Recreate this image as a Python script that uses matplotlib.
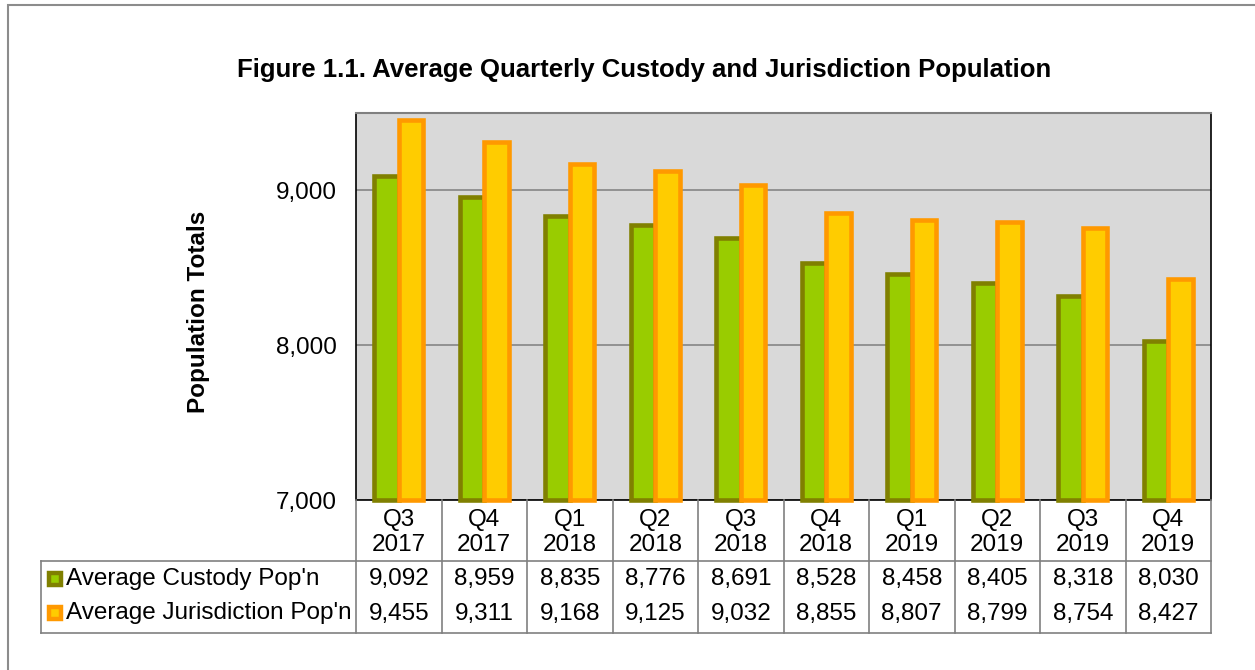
import numpy as np
import matplotlib
matplotlib.use("Agg")
from matplotlib import pyplot as plt
from matplotlib.patches import Rectangle
from matplotlib.lines import Line2D
from matplotlib.transforms import blended_transform_factory

plt.rcParams['font.family'] = ['Liberation Sans', 'DejaVu Sans']

# chart data
quarters = ["Q3", "Q4", "Q1", "Q2", "Q3", "Q4", "Q1", "Q2", "Q3", "Q4"]
years = ["2017", "2017", "2018", "2018", "2018", "2018", "2019", "2019", "2019", "2019"]
custody = [9092, 8959, 8835, 8776, 8691, 8528, 8458, 8405, 8318, 8030]
jurisdiction = [9455, 9311, 9168, 9125, 9032, 8855, 8807, 8799, 8754, 8427]
series_names = ["Average Custody Pop'n", "Average Jurisdiction Pop'n"]
yticks = [7000, 8000, 9000]

W, H = 1255, 670
FS = 17.5
fig = plt.figure(figsize=(W / 100, H / 100), dpi=100)

#pixel -> figure fraction helpers
def fx(px):
    return px / W
def fy(py):
    return 1 - py / H

# outer chart border
fig.patches.append(Rectangle((fx(8), fy(700)), fx(1300), fy(5) - fy(700),
                             transform=fig.transFigure, fill=False,
                             edgecolor="#8c8c8c", linewidth=1.5))

left, right, top, bottom = 356, 1211, 113, 500
ax = fig.add_axes([fx(left), fy(bottom), fx(right - left), fy(top) - fy(bottom)])
ax.set_facecolor("#D9D9D9")

x = np.arange(len(quarters))
w = 0.286
ax.bar(x - w / 2, np.array(custody) - 7000, bottom=7000, width=w, color="#99CC00",
       edgecolor="#808000", linewidth=3.3, zorder=3, clip_on=False)
ax.bar(x + w / 2, np.array(jurisdiction) - 7000, bottom=7000, width=w, color="#FFCC00",
       edgecolor="#FF9900", linewidth=3.3, zorder=4, clip_on=False)

ax.set_xlim(-0.5, len(quarters) - 0.5)
ax.set_ylim(7000, 9500)
ax.set_yticks(yticks)
ax.set_yticklabels([f"{v:,}" for v in yticks], fontsize=FS)
ax.tick_params(axis="y", length=0, pad=14)
ax.set_xticks([])
ax.yaxis.grid(True, color="#8c8c8c", linewidth=1.3, zorder=1)
ax.set_axisbelow(True)
for s in ["left", "right", "bottom"]:
    ax.spines[s].set_color("black")
    ax.spines[s].set_linewidth(1.2)
ax.spines["top"].set_color("#808080")
ax.spines["top"].set_linewidth(1.5)

fig.text(fx(644), fy(70), "Figure 1.1. Average Quarterly Custody and Jurisdiction Population",
         ha="center", va="center", fontsize=18.5, fontweight="bold")
fig.text(fx(199), fy(312), "Population Totals", rotation=90, ha="center", va="center",
         fontsize=FS, fontweight="bold")

# data table below the axes
tr = blended_transform_factory(ax.transData, fig.transFigure)
lc = "#808080"
edges = np.arange(len(quarters) + 1) - 0.5
for e in edges[1:]:
    fig.add_artist(Line2D([e, e], [fy(bottom), fy(633)], transform=tr, color=lc, linewidth=1.2))
fig.add_artist(Line2D([fx(left), fx(left)], [fy(bottom), fy(633)], transform=fig.transFigure, color=lc, linewidth=1.2))
fig.add_artist(Line2D([fx(41), fx(41)], [fy(561), fy(633)], transform=fig.transFigure, color=lc, linewidth=1.2))
for py in [561, 633]:
    fig.add_artist(Line2D([fx(41), fx(right)], [fy(py), fy(py)], transform=fig.transFigure,
                          color=lc, linewidth=1.2))

for i in range(len(quarters)):
    fig.text(x[i], fy(520), quarters[i], transform=tr, ha="center", va="center", fontsize=FS)
    fig.text(x[i], fy(545), years[i], transform=tr, ha="center", va="center", fontsize=FS)
    fig.text(x[i], fy(579), f"{custody[i]:,}", transform=tr, ha="center", va="center", fontsize=FS)
    fig.text(x[i], fy(614), f"{jurisdiction[i]:,}", transform=tr, ha="center", va="center", fontsize=FS)

key_styles = [("#99CC00", "#808000"), ("#FFCC00", "#FF9900")]
for (face, edge), name, py in zip(key_styles, series_names, [579, 613]):
    fig.patches.append(Rectangle((fx(49), fy(py + 6)), fx(12), fy(py - 6) - fy(py + 6),
                                 transform=fig.transFigure, facecolor=face,
                                 edgecolor=edge, linewidth=3.2))
    fig.text(fx(66), fy(py), name, ha="left", va="center", fontsize=FS)

fig.savefig("out.png", dpi=100)
